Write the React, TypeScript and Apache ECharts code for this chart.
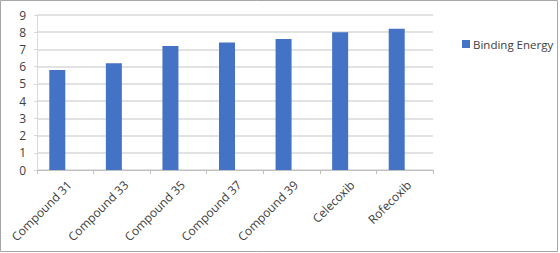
import React, { useEffect, useRef } from "react";
import * as echarts from "echarts";

const categories = ["Compound 31", "Compound 33", "Compound 35", "Compound 37", "Compound 39", "Celecoxib", "Rofecoxib"];
const bindingEnergy = [5.8, 6.2, 7.2, 7.4, 7.6, 8.0, 8.2];
const seriesName = "Binding Energy";

export default function App() {
  const ref = useRef<HTMLDivElement>(null);
  useEffect(() => {
    const chart = echarts.init(ref.current!, null, { renderer: "svg" });
    const font = "'Open Sans', sans-serif";
    chart.setOption({
      animation: false,
      backgroundColor: "#ffffff",
      textStyle: { fontFamily: font },
      graphic: [
        {
          type: "rect",
          shape: { x: 0.5, y: 0.5, width: 557, height: 251 },
          style: { fill: "none", stroke: "#a6a6a6", lineWidth: 1 },
          silent: true,
        },
      ],
      legend: {
        data: [seriesName],
        left: 457,
        top: 33,
        itemWidth: 8,
        itemHeight: 8,
        itemGap: 4,
        icon: "rect",
        textStyle: { fontFamily: font, fontSize: 11.5, color: "#404040", padding: [0, 0, 0, -2] },
      },
      grid: { left: 37, right: 127, top: 15, bottom: 83, containLabel: false },
      xAxis: {
        type: "category",
        data: categories,
        boundaryGap: true,
        axisLine: { show: true, lineStyle: { color: "#bfbfbf", width: 1 } },
        axisTick: { show: true, length: 4, alignWithLabel: false, lineStyle: { color: "#bfbfbf" } },
        axisLabel: { rotate: 45, margin: 17, fontSize: 12, color: "#404040", fontFamily: font, interval: 0, padding: [0, -6, 0, 0] },
      },
      yAxis: {
        type: "value",
        min: 0,
        max: 9,
        interval: 1,
        axisLine: { show: true, lineStyle: { color: "#d9d9d9", width: 1 } },
        axisTick: { show: true, length: 3, lineStyle: { color: "#d9d9d9" } },
        axisLabel: { fontSize: 12, color: "#404040", margin: 11, fontFamily: font },
        splitLine: { show: true, lineStyle: { color: "#d9d9d9", width: 1.5 } },
      },
      series: [
        {
          name: seriesName,
          type: "bar",
          data: bindingEnergy,
          barWidth: 16,
          barGap: "0%",
          itemStyle: { color: "#4472c4" },
        },
        {
          name: "_empty",
          type: "bar",
          data: [],
          barWidth: 16,
          barGap: "0%",
        },
      ],
    });
    return () => chart.dispose();
  }, []);
  return <div ref={ref} style={{ width: 560, height: 253, position: "absolute", left: 0, top: 0 }} />;
}
